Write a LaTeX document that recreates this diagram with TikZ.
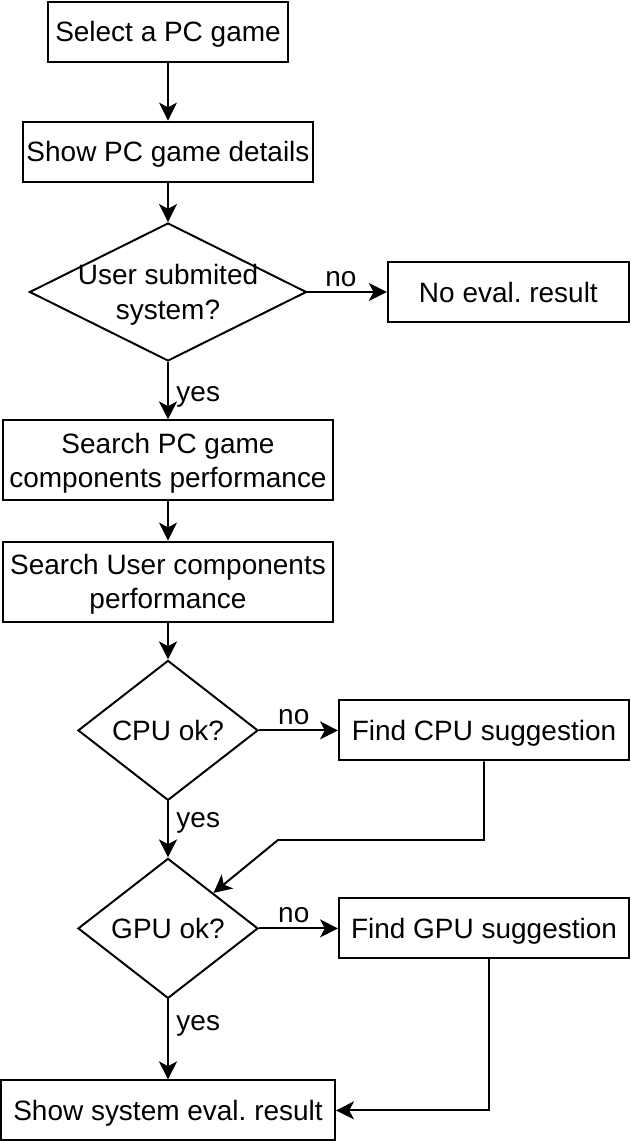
\documentclass[tikz,border=0pt]{standalone}
\usepackage{fontspec}
\setmainfont{Liberation Sans}
\usetikzlibrary{shapes.geometric,arrows.meta}
\frenchspacing

\begin{document}
\begin{tikzpicture}[
		box/.style = {draw, minimum width=7.25cm, minimum height=1.5cm, inner xsep=2pt, text depth=0pt, align=center, font=\fontsize{19.9}{24.5}\selectfont},
		dec/.style = {draw, diamond, inner sep=0pt, minimum width=4.5cm, minimum height=3.5cm},
		dtxt/.style = {align=center, text depth=0pt, font=\fontsize{19.9}{24.5}\selectfont},
		lbl/.style = {font=\fontsize{19.9}{24.5}\selectfont},
		line width=1.4pt,
		>={Stealth[length=0.45cm, width=0.45cm, inset=0.12cm]}
	]
	\useasboundingbox (0,0) rectangle (15.75,-28.55);

	\node[box, minimum width=6cm]    (sel)    at (4.2,-0.79)   {Select a PC game};
	\node[box]                       (det)    at (4.2,-3.79)   {Show PC game details};
	\node[dec, minimum width=6.925cm, minimum height=3.45cm, label={[dtxt]center:{User submited\\system?}}] (sub) at (4.2,-7.3) {};
	\node[box, minimum width=6.03cm] (noeval) at (12.71,-7.3)  {No eval. result};
	\node[box, minimum width=8.25cm, minimum height=2cm] (sgc) at (4.2,-11.51) {Search PC game\\components performance};
	\node[box, minimum width=8.25cm, minimum height=2cm] (suc) at (4.2,-14.54) {Search User components\\performance};
	\node[dec, label={[dtxt]center:CPU ok?}] (cpu) at (4.2,-18.26) {};
	\node[box]                       (fcpu)   at (12.1,-18.26) {Find CPU suggestion};
	\node[dec, label={[dtxt]center:GPU ok?}] (gpu) at (4.2,-23.21) {};
	\node[box]                       (fgpu)   at (12.1,-23.21) {Find GPU suggestion};
	\node[box, minimum width=8.35cm] (res)    at (4.2,-27.76)  {Show system eval. result};
	\coordinate (cbend) at (6.95,-21.0);

	\draw[->] (sel) -- (det);
	\draw[->] (det) -- (sub);
	\draw[->] (sub) -- node[lbl, pos=0.42, above] {no} (noeval);
	\draw[->] (sub) -- node[lbl, pos=0.6, right, xshift=2pt] {yes} (sgc);
	\draw[->] (sgc) -- (suc);
	\draw[->] (suc) -- (cpu);
	\draw[->] (cpu) -- node[lbl, pos=0.44, above] {no} (fcpu);
	\draw[->] (cpu) -- node[lbl, pos=0.38, right, xshift=2pt] {yes} (gpu);
	\draw[->] (fcpu.south) |- (cbend) -- (gpu.north east);
	\draw[->] (gpu) -- node[lbl, pos=0.44, above] {no} (fgpu);
	\draw[->] (gpu) -- node[lbl, pos=0.33, right, xshift=2pt] {yes} (res);
	\draw[->] ([xshift=0.125cm]fgpu.south) |- (res.east);
\end{tikzpicture}
\end{document}
